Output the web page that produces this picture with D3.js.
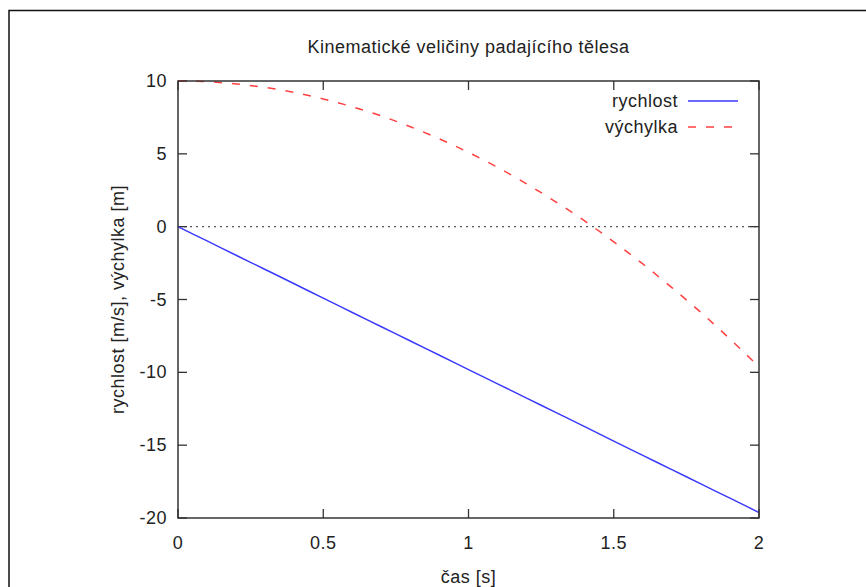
<!DOCTYPE html>
<html>
<head>
<meta charset="utf-8">
<script src="https://cdn.jsdelivr.net/npm/d3@7"></script>
<style>
  body { margin: 0; background: #fff; }
  text { font-family: "Liberation Sans", Arial, sans-serif; fill: #222; font-size: 18px; letter-spacing: 0.5px; }
</style>
</head>
<body>
<svg id="chart" width="866" height="587"></svg>
<script>
// time samples [s]
var cas = [0, 0.1, 0.2, 0.3, 0.4, 0.5, 0.6, 0.7, 0.8, 0.9, 1.0,
           1.1, 1.2, 1.3, 1.4, 1.5, 1.6, 1.7, 1.8, 1.9, 2.0];
// velocity [m/s]
var rychlost = [0, -0.98, -1.96, -2.94, -3.92, -4.91, -5.89, -6.87, -7.85, -8.83, -9.81,
                -10.79, -11.77, -12.75, -13.73, -14.72, -15.70, -16.68, -17.66, -18.64, -19.62];
// displacement [m]
var vychylka = [10, 9.95, 9.80, 9.56, 9.22, 8.77, 8.23, 7.60, 6.86, 6.03, 5.10,
                4.07, 2.94, 1.71, 0.39, -1.04, -2.56, -4.18, -5.89, -7.71, -9.62];
var xTicks = [0, 0.5, 1, 1.5, 2];
var yTicks = [10, 5, 0, -5, -10, -15, -20];
var series = [
  { name: "rychlost", values: rychlost, color: "#3a3aff", dash: null },
  { name: "výchylka", values: vychylka, color: "#ff4040", dash: "8,10" }
];

var svg = d3.select("#chart");
var plotLeft = 178, plotRight = 759, plotTop = 81, plotBottom = 518;
var tickLen = 9;

var x = d3.scaleLinear().domain([0, 2]).range([plotLeft, plotRight]);
var y = d3.scaleLinear().domain([-20, 10]).range([plotBottom, plotTop]);

// outer frame (runs off the picture on right / bottom)
svg.append("rect")
  .attr("x", 9).attr("y", 10.5)
  .attr("width", 900).attr("height", 700)
  .attr("fill", "none").attr("stroke", "#111").attr("stroke-width", 1.5);

// title
svg.append("text")
  .attr("x", (plotLeft + plotRight) / 2).attr("y", 53)
  .attr("text-anchor", "middle")
  .text("Kinematické veličiny padajícího tělesa");

// zero axis
svg.append("line")
  .attr("x1", x(0)).attr("x2", x(2))
  .attr("y1", y(0)).attr("y2", y(0))
  .attr("stroke", "#555").attr("stroke-width", 1.2)
  .attr("stroke-dasharray", "2,4");

// ticks, mirrored on all four sides, pointing in
var g = svg.append("g").attr("stroke", "#333").attr("stroke-width", 1.3);
xTicks.forEach(function(t) {
  g.append("line").attr("x1", x(t)).attr("x2", x(t)).attr("y1", plotBottom).attr("y2", plotBottom - tickLen);
  g.append("line").attr("x1", x(t)).attr("x2", x(t)).attr("y1", plotTop).attr("y2", plotTop + tickLen);
});
yTicks.forEach(function(t) {
  g.append("line").attr("x1", plotLeft).attr("x2", plotLeft + tickLen).attr("y1", y(t)).attr("y2", y(t));
  g.append("line").attr("x1", plotRight).attr("x2", plotRight - tickLen).attr("y1", y(t)).attr("y2", y(t));
});

svg.selectAll(".xlab").data(xTicks).enter().append("text")
  .attr("x", function(d) { return x(d); })
  .attr("y", plotBottom + 31)
  .attr("text-anchor", "middle")
  .text(function(d) { return d; });

svg.selectAll(".ylab").data(yTicks).enter().append("text")
  .attr("x", plotLeft - 11)
  .attr("y", function(d) { return y(d) + 6; })
  .attr("text-anchor", "end")
  .text(function(d) { return d; });

// axis titles
svg.append("text")
  .attr("x", (plotLeft + plotRight) / 2).attr("y", 583)
  .attr("text-anchor", "middle")
  .text("čas [s]");

svg.append("text")
  .attr("transform", "translate(124," + ((plotTop + plotBottom) / 2) + ") rotate(-90)")
  .attr("text-anchor", "middle")
  .text("rychlost [m/s], výchylka [m]");

// data lines
var line = d3.line()
  .x(function(d, i) { return x(cas[i]); })
  .y(function(d) { return y(d); })
  .curve(d3.curveMonotoneX);

var clip = svg.append("clipPath").attr("id", "plotclip");
clip.append("rect").attr("x", plotLeft).attr("y", plotTop - 1)
  .attr("width", plotRight - plotLeft).attr("height", plotBottom - plotTop + 1);

series.forEach(function(s) {
  svg.append("path")
    .attr("clip-path", "url(#plotclip)")
    .attr("d", line(s.values))
    .attr("fill", "none")
    .attr("stroke", s.color)
    .attr("stroke-width", 1.5)
    .attr("stroke-dasharray", s.dash);
});

// plot border
svg.append("rect")
  .attr("x", plotLeft).attr("y", plotTop)
  .attr("width", plotRight - plotLeft).attr("height", plotBottom - plotTop)
  .attr("fill", "none").attr("stroke", "#333").attr("stroke-width", 1.5);

// legend
series.forEach(function(s, i) {
  var ly = 101 + i * 26;
  svg.append("text")
    .attr("x", 678).attr("y", ly + 6)
    .attr("text-anchor", "end")
    .text(s.name);
  svg.append("line")
    .attr("x1", 688).attr("x2", 738)
    .attr("y1", ly).attr("y2", ly)
    .attr("stroke", s.color).attr("stroke-width", 1.5)
    .attr("stroke-dasharray", s.dash);
});
</script>
</body>
</html>
